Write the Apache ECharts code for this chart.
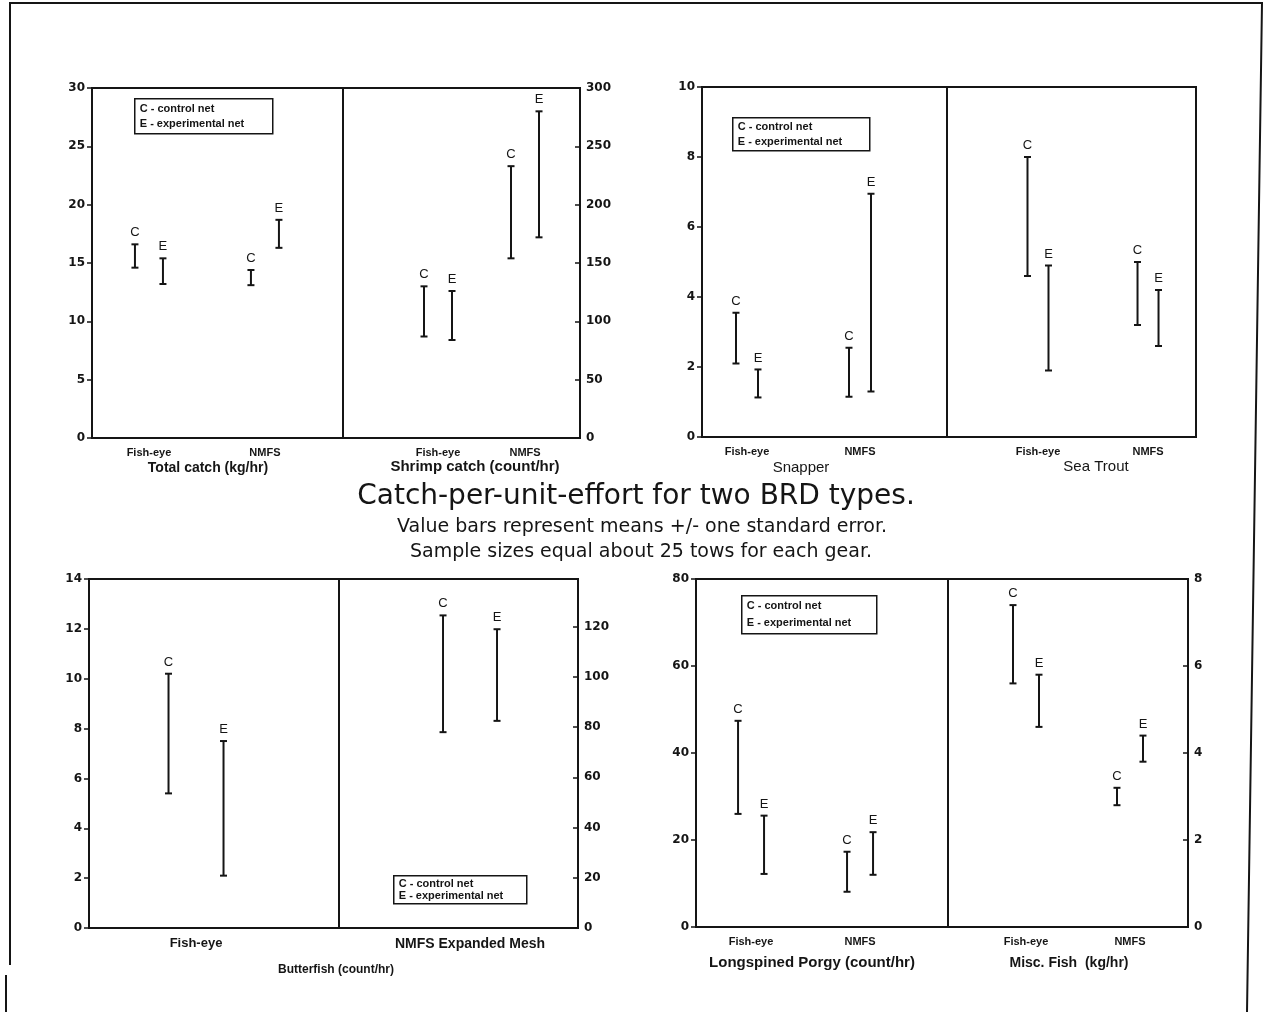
<!DOCTYPE html>
<html><head><meta charset="utf-8">
<script src="https://cdn.jsdelivr.net/npm/echarts@6/dist/echarts.min.js"></script>
<style>html,body{margin:0;padding:0;background:#fff}#c{width:1266px;height:1012px}</style>
</head><body><div id="c"></div><script>
// ---------------- data ----------------
const gearTwo = ['Fish-eye', 'NMFS'];
const gearFishEye = ['Fish-eye'];
const gearNmfsMesh = ['NMFS Expanded Mesh'];

// Total catch (kg/hr)
const totalC_low  = [14.6, 13.1];
const totalC_high = [16.6, 14.4];
const totalE_low  = [13.2, 16.3];
const totalE_high = [15.4, 18.7];
// Shrimp catch (count/hr)
const shrimpC_low  = [87, 154];
const shrimpC_high = [130, 233];
const shrimpE_low  = [84, 172];
const shrimpE_high = [126, 280];
// Snapper
const snapperC_low  = [2.1, 1.15];
const snapperC_high = [3.55, 2.55];
const snapperE_low  = [1.13, 1.3];
const snapperE_high = [1.93, 6.95];
// Sea Trout
const troutC_low  = [4.6, 3.2];
const troutC_high = [8.0, 5.0];
const troutE_low  = [1.9, 2.6];
const troutE_high = [4.9, 4.2];
// Butterfish (count/hr) - Fish-eye
const butterFE_C_low = [5.4],  butterFE_C_high = [10.2];
const butterFE_E_low = [2.1],  butterFE_E_high = [7.5];
// Butterfish (count/hr) - NMFS Expanded Mesh
const butterNM_C_low = [78],   butterNM_C_high = [124.5];
const butterNM_E_low = [82.5], butterNM_E_high = [119];
// Longspined Porgy (count/hr)
const porgyC_low  = [26, 8.1];
const porgyC_high = [47.4, 17.3];
const porgyE_low  = [12.2, 12];
const porgyE_high = [25.6, 21.8];
// Misc. Fish (kg/hr)
const miscC_low  = [5.6, 2.8];
const miscC_high = [7.4, 3.2];
const miscE_low  = [4.6, 3.8];
const miscE_high = [5.8, 4.4];

// axis scales
const totalAxis   = {min: 0, max: 30,  interval: 5};
const shrimpAxis  = {min: 0, max: 300, interval: 50};
const snapperAxis = {min: 0, max: 10,  interval: 2};
const butterFEAxis = {min: 0, max: 14, interval: 2};
const butterNMAxis = {min: 0, max: 139, interval: 20};
const porgyAxis   = {min: 0, max: 80,  interval: 20};
const miscAxis    = {min: 0, max: 8,   interval: 2};

// ---------------- layout ----------------
const INK = '#151515';
const halves = [
  {grid:{left:92, top:88, width:251, height:350}, x:[-0.491,1.673], cats:gearTwo, y:totalAxis, pos:'left', show:true, off:14, lab:{size:11},
   c:[totalC_low,totalC_high], e:[totalE_low,totalE_high]},
  {grid:{left:343, top:88, width:237, height:350}, x:[-1.092,1.632], cats:gearTwo, y:shrimpAxis, pos:'right', show:true, off:14, lab:{size:11},
   c:[shrimpC_low,shrimpC_high], e:[shrimpE_low,shrimpE_high]},
  {grid:{left:702, top:87, width:245, height:350}, x:[-0.398,1.77], cats:gearTwo, y:snapperAxis, pos:'left', show:true, off:11, lab:{size:11},
   c:[snapperC_low,snapperC_high], e:[snapperE_low,snapperE_high]},
  {grid:{left:947, top:87, width:249, height:350}, x:[-0.827,1.436], cats:gearTwo, y:snapperAxis, pos:'right', show:false, off:10.5, lab:{size:11},
   c:[troutC_low,troutC_high], e:[troutE_low,troutE_high]},
  {grid:{left:89, top:579, width:250, height:349}, x:[-1,1.336], cats:gearFishEye, y:butterFEAxis, pos:'left', show:true, off:27.5, lab:{size:13},
   c:[butterFE_C_low,butterFE_C_high], e:[butterFE_E_low,butterFE_E_high]},
  {grid:{left:339, top:579, width:239, height:349}, x:[-1,0.824], cats:gearNmfsMesh, y:butterNMAxis, pos:'right', show:true, off:27, lab:{size:14}, hideMax:true,
   c:[butterNM_C_low,butterNM_C_high], e:[butterNM_E_low,butterNM_E_high]},
  {grid:{left:696, top:579, width:252, height:348}, x:[-0.505,1.807], cats:gearTwo, y:porgyAxis, pos:'left', show:true, off:13, lab:{size:11},
   c:[porgyC_low,porgyC_high], e:[porgyE_low,porgyE_high]},
  {grid:{left:948, top:579, width:240, height:348}, x:[-0.75,1.558], cats:gearTwo, y:miscAxis, pos:'right', show:true, off:13, lab:{size:11},
   c:[miscC_low,miscC_high], e:[miscE_low,miscE_high]}
];

function makeRender(off){
  return function(params, api){
    const lo = api.coord([api.value(0), api.value(1)]);
    const hi = api.coord([api.value(0), api.value(2)]);
    const g = api.value(3);
    const x = lo[0] + (g === 0 ? -off : off);
    const cw = 3.5;
    return {type:'group', children:[
      {type:'line', shape:{x1:x, y1:lo[1], x2:x, y2:hi[1]}, style:{stroke:INK, lineWidth:2}},
      {type:'line', shape:{x1:x-cw, y1:hi[1], x2:x+cw, y2:hi[1]}, style:{stroke:INK, lineWidth:2}},
      {type:'line', shape:{x1:x-cw, y1:lo[1], x2:x+cw, y2:lo[1]}, style:{stroke:INK, lineWidth:2}},
      {type:'text', style:{x:x, y:hi[1]-5, text: g === 0 ? 'C' : 'E', align:'center', verticalAlign:'bottom',
        font:'13px "Liberation Sans", Arial, sans-serif', fill:INK}}
    ]};
  };
}

const grids = [], xAxes = [], yAxes = [], series = [];
halves.forEach((h, i) => {
  grids.push(Object.assign({show:true, borderColor:INK, borderWidth:2, backgroundColor:'transparent', containLabel:false}, h.grid));
  xAxes.push({gridIndex:i, type:'value', min:h.x[0], max:h.x[1], position:'bottom',
    axisLine:{show:false, onZero:false}, axisTick:{show:false}, splitLine:{show:false},
    axisLabel:{customValues: h.cats.map((_, k) => k), formatter: v => h.cats[Math.round(v)] || '',
      color:INK, fontSize:h.lab.size, fontWeight:'bold', fontFamily:'"Liberation Sans", Arial, sans-serif', margin:9}});
  yAxes.push({gridIndex:i, type:'value', min:h.y.min, max:h.y.max, interval:h.y.interval, position:h.pos, show:h.show,
    axisLine:{show:true, onZero:false, lineStyle:{color:INK, width:2}}, splitLine:{show:false},
    axisTick:{show:true, inside: h.pos === 'right', length:5, lineStyle:{color:INK, width:1.5}},
    axisLabel:{color:INK, fontSize:12, fontWeight:'bold', fontFamily:'"DejaVu Sans", sans-serif', margin: h.pos === 'right' ? 6 : 7,
      showMaxLabel: h.hideMax ? false : true}});
  const data = [];
  h.cats.forEach((_, k) => {
    data.push([k, h.c[0][k], h.c[1][k], 0]);
    data.push([k, h.e[0][k], h.e[1][k], 1]);
  });
  series.push({type:'custom', xAxisIndex:i, yAxisIndex:i, data, encode:{x:0, y:[1,2]}, renderItem:makeRender(h.off), silent:true, clip:false, animation:false});
});

function legendBox(x, y, w, h){
  return {type:'group', left:x, top:y, children:[
    {type:'rect', shape:{x:0, y:0, width:w, height:h}, style:{fill:'#fff', stroke:INK, lineWidth:1.5}},
    {type:'text', style:{x:5, y:h*0.28, text:'C - control net', verticalAlign:'middle', font:'bold 11px "Liberation Sans", Arial, sans-serif', fill:INK}},
    {type:'text', style:{x:5, y:h*0.72, text:'E - experimental net', verticalAlign:'middle', font:'bold 11px "Liberation Sans", Arial, sans-serif', fill:INK}}
  ]};
}
function label(text, x, y, font){
  return {type:'text', x:x, y:y, style:{text, align:'center', verticalAlign:'middle', font, fill:INK}};
}
const F = '"Liberation Sans", Arial, sans-serif';
const graphics = [
  // page border of the scanned sheet
  {type:'polyline', shape:{points:[[10,965],[10,3],[1262,3],[1247,1012]]}, style:{stroke:INK, lineWidth:2, fill:null}},
  {type:'line', shape:{x1:6, y1:975, x2:6, y2:1012}, style:{stroke:INK, lineWidth:2}},
  legendBox(134, 98, 138, 35),
  legendBox(732, 117, 137, 33),
  legendBox(393, 875, 133, 28),
  legendBox(741, 595, 135, 38),
  label('Total catch (kg/hr)', 208, 468, 'bold 14px ' + F),
  label('Shrimp catch (count/hr)', 475, 467, 'bold 15px ' + F),
  label('Snapper', 801, 468, '15px ' + F),
  label('Sea Trout', 1096, 467, '15px ' + F),
  label('Butterfish (count/hr)', 336, 970, 'bold 12px ' + F),
  label('Longspined Porgy (count/hr)', 812, 963, 'bold 15px ' + F),
  label('Misc. Fish  (kg/hr)', 1069, 963, 'bold 14px ' + F),
  label('Catch-per-unit-effort for two BRD types.', 636, 497, '28px "DejaVu Sans", sans-serif'),
  label('Value bars represent means +/- one standard error.', 642, 527, '19px "DejaVu Sans", sans-serif'),
  label('Sample sizes equal about 25 tows for each gear.', 641, 552, '19px "DejaVu Sans", sans-serif')
];

const chart = echarts.init(document.getElementById('c'), null, {renderer:'canvas'});
chart.setOption({
  backgroundColor:'#fff', animation:false,
  grid: grids, xAxis: xAxes, yAxis: yAxes, series, graphic: graphics
});
</script></body></html>
